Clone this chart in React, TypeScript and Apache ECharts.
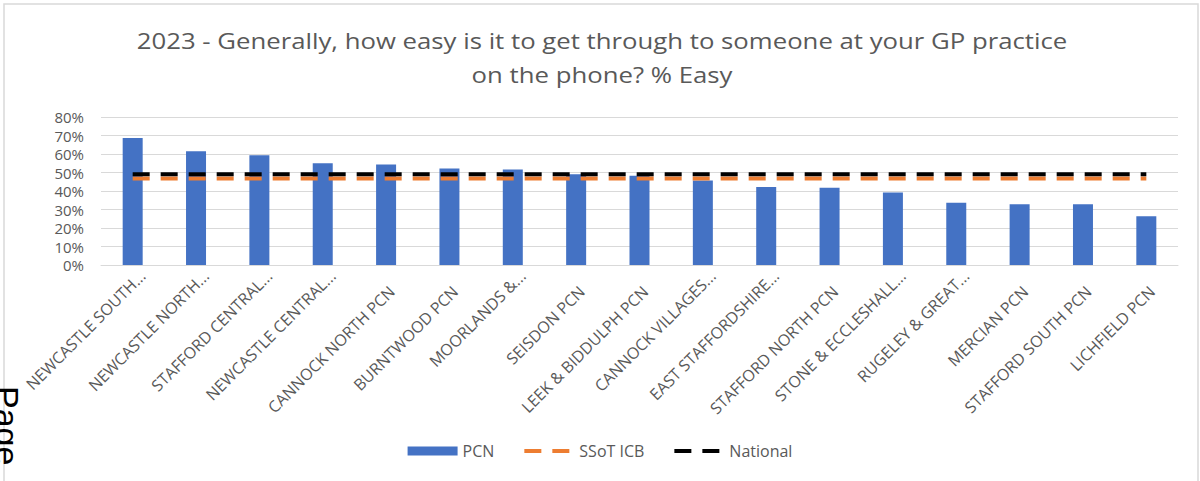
import React, { useEffect, useRef } from "react";
import * as echarts from "echarts";

const categories = [
  "NEWCASTLE SOUTH...",
  "NEWCASTLE NORTH...",
  "STAFFORD CENTRAL...",
  "NEWCASTLE CENTRAL...",
  "CANNOCK NORTH PCN",
  "BURNTWOOD PCN",
  "MOORLANDS &...",
  "SEISDON PCN",
  "LEEK & BIDDULPH PCN",
  "CANNOCK VILLAGES...",
  "EAST STAFFORDSHIRE...",
  "STAFFORD NORTH PCN",
  "STONE & ECCLESHALL...",
  "RUGELEY & GREAT...",
  "MERCIAN PCN",
  "STAFFORD SOUTH PCN",
  "LICHFIELD PCN",
];

const pcnValues = [68.7, 61.5, 59.3, 55.0, 54.3, 52.1, 51.6, 49.1, 48.2, 45.7, 42.2, 41.7, 39.2, 33.6, 32.9, 32.9, 26.4];
const ssotIcbValues = [46.7, 46.7, 46.7, 46.7, 46.7, 46.7, 46.7, 46.7, 46.7, 46.7, 46.7, 46.7, 46.7, 46.7, 46.7, 46.7, 46.7];
const nationalValues = [49.1, 49.1, 49.1, 49.1, 49.1, 49.1, 49.1, 49.1, 49.1, 49.1, 49.1, 49.1, 49.1, 49.1, 49.1, 49.1, 49.1];

const seriesNames = ["PCN", "SSoT ICB", "National"];
const titleText = "2023 - Generally, how easy is it to get through to someone at your GP practice\non the phone? % Easy";

const FONT = "Open Sans";
const GREY = "#595959";
const DASH_ICON =
  "path://M0,0H0.01V0.01H0Z M49.99,8.99H50V9H49.99Z M0,2.5H17V6.5H0Z M28,2.5H45V6.5H28Z";

export default function App() {
  const ref = useRef<HTMLDivElement>(null);

  useEffect(() => {
    if (!ref.current) return;
    const chart = echarts.init(ref.current, undefined, { renderer: "svg" });
    chart.setOption({
      animation: false,
      backgroundColor: "#ffffff",
      graphic: [
        {
          type: "rect",
          silent: true,
          shape: { x: 4, y: 4, width: 1194, height: 495 },
          style: { fill: "none", stroke: "#d9d9d9", lineWidth: 1.5 },
        },
        {
          type: "text",
          silent: true,
          x: 602,
          y: 23,
          scaleX: 1.17,
          style: {
            text: titleText,
            font: `22px '${FONT}'`,
            fill: GREY,
            align: "center",
            verticalAlign: "top",
            lineHeight: 34,
          },
        },
        {
          type: "text",
          silent: true,
          x: 24,
          y: 386,
          rotation: -Math.PI / 2,
          style: {
            text: "Page",
            font: "34px 'Liberation Sans'",
            fill: "#000000",
            align: "left",
            verticalAlign: "top",
          },
        },
      ],
      legend: {
        data: [
          { name: seriesNames[0], icon: "rect" },
          { name: seriesNames[1], icon: DASH_ICON },
          { name: seriesNames[2], icon: DASH_ICON },
        ],
        bottom: 17,
        left: "center",
        itemWidth: 50,
        itemHeight: 9,
        itemGap: 30,
        textStyle: { fontFamily: FONT, fontSize: 16, color: GREY },
      },
      grid: { left: 101, right: 22, top: 117, bottom: 216, containLabel: false },
      xAxis: {
        type: "category",
        data: categories.map((c) =>
          c.endsWith("...") ? { value: c, textStyle: { padding: [4, -14, 0, 0] } } : c
        ),
        axisLine: { lineStyle: { color: "#d9d9d9", width: 1 } },
        axisTick: { show: false },
        axisLabel: {
          interval: 0,
          rotate: 45,
          margin: 18,
          verticalAlign: "top",
          fontFamily: FONT,
          fontSize: 16,
          color: GREY,
        },
      },
      yAxis: {
        type: "value",
        min: 0,
        max: 80,
        interval: 10,
        axisLine: { show: false },
        axisTick: { show: false },
        splitLine: { lineStyle: { color: "#d9d9d9", width: 1 } },
        axisLabel: {
          formatter: "{value}%",
          margin: 17,
          fontFamily: FONT,
          fontSize: 15,
          lineHeight: 15,
          color: GREY,
        },
      },
      series: [
        {
          name: seriesNames[0],
          type: "bar",
          data: pcnValues,
          barWidth: 20,
          itemStyle: { color: "#4472C4" },
        },
        {
          name: seriesNames[1],
          type: "line",
          data: ssotIcbValues,
          symbol: "none",
          itemStyle: { color: "#ED7D31" },
          lineStyle: { color: "#ED7D31", width: 4, type: [17, 11] },
        },
        {
          name: seriesNames[2],
          type: "line",
          data: nationalValues,
          symbol: "none",
          itemStyle: { color: "#000000" },
          lineStyle: { color: "#000000", width: 4, type: [17, 11] },
        },
      ],
    });
    return () => chart.dispose();
  }, []);

  return (
    <div
      ref={ref}
      style={{ position: "absolute", left: 0, top: 0, width: 1200, height: 481 }}
    />
  );
}
